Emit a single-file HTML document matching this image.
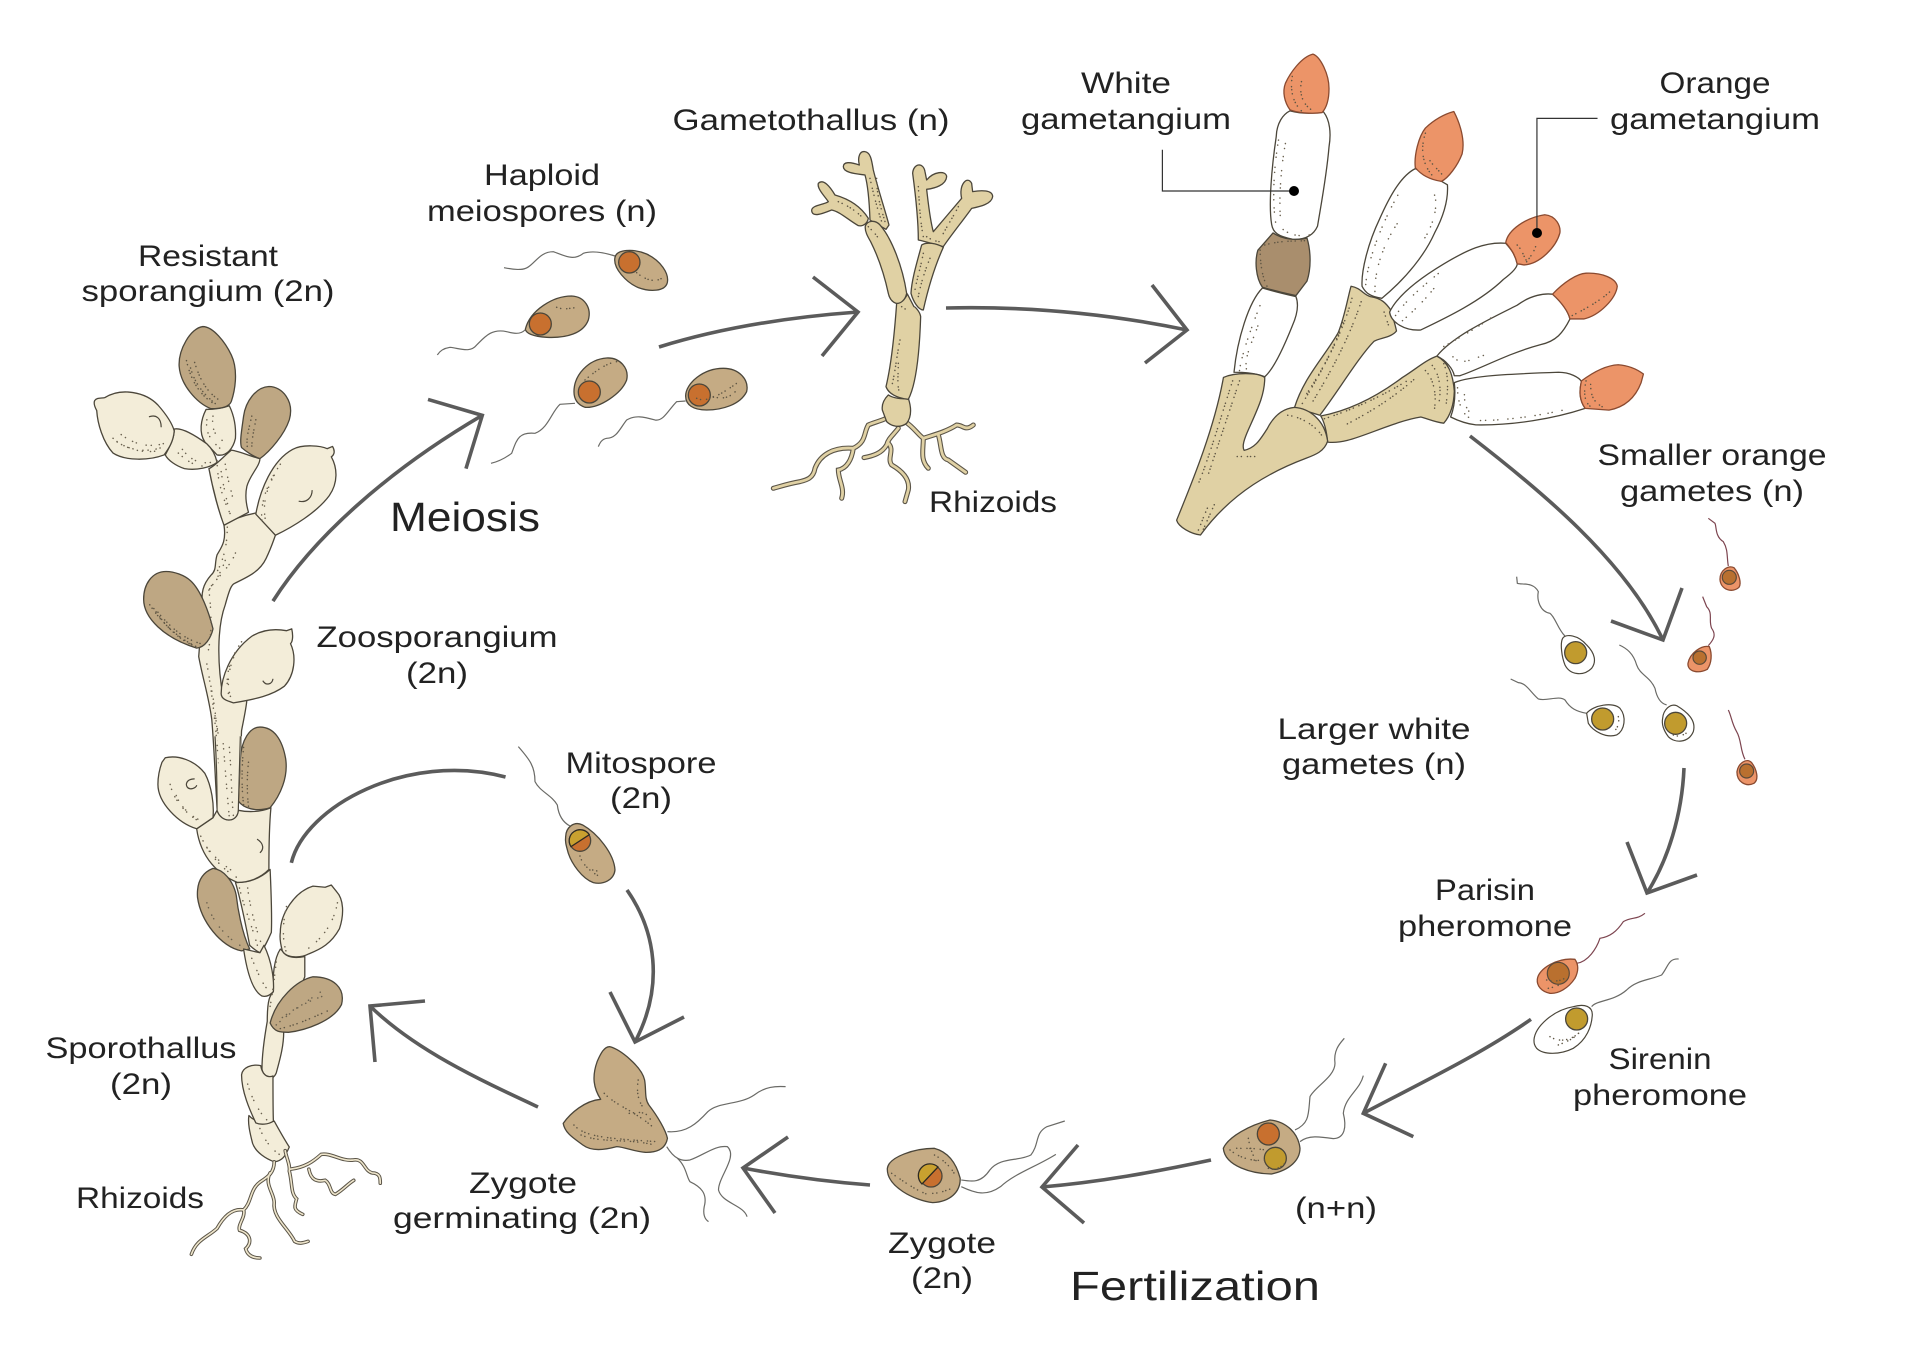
<!DOCTYPE html>
<html><head><meta charset="utf-8"><title>Life cycle</title>
<style>
html,body{margin:0;padding:0;background:#fff}
svg{display:block}
path,circle,ellipse{vector-effect:non-scaling-stroke}
text{font-family:"Liberation Sans",sans-serif;font-size:30px;fill:#222;text-anchor:middle}
.big{font-size:41px}
.o{stroke:#4b463a;stroke-width:1.3;stroke-linejoin:round}
.cr{fill:#f3edd9}.dk{fill:#bea783}.tn{fill:#c5ab84}.st{fill:#e0d1a4}.wh{fill:#fff}.or{fill:#ec9468;stroke:#8a4a30}.br{fill:#a98e6d}
.nu{fill:#c8702f;stroke:#4b463a;stroke-width:1.3}.ny{fill:#c19b2e;stroke:#4b463a;stroke-width:1.3}.no{fill:#b9702f;stroke:#5a4a3a;stroke-width:1.2}
.f{fill:none;stroke:#6a6a66;stroke-width:1.2}.fr{fill:none;stroke:#7d4550;stroke-width:1.2}
.a{fill:none;stroke:#5b5b5b;stroke-width:3.6}
.l{fill:none;stroke:#333;stroke-width:1.2}
.s{fill:none;stroke:#6b6250;stroke-width:1.5;stroke-linecap:round;stroke-dasharray:.1 5 .1 8 .1 4 .1 10}
.s2{fill:none;stroke:#5f5644;stroke-width:1.5;stroke-linecap:round;stroke-dasharray:.1 4 .1 6 .1 3}
.rd{fill:none;stroke:#5b5548;stroke-width:3.6;stroke-linecap:round}
.rl{fill:none;stroke:#efe6cc;stroke-width:1.6;stroke-linecap:round}
.rd2{fill:none;stroke:#5b5548;stroke-width:5;stroke-linecap:round}
.rl2{fill:none;stroke:#e0d1a4;stroke-width:2.8;stroke-linecap:round}
.c{fill:none;stroke:#4b463a;stroke-width:1.2}
</style></head><body>
<svg width="1920" height="1362" viewBox="0 0 1920 1362" xmlns="http://www.w3.org/2000/svg">
<rect width="1920" height="1362" fill="#fff"/>
<defs>
<g id="r1">
<path d="M552 1110C555 1130 565 1150 562 1165C570 1200 565 1225 580 1240C575 1260 570 1270 595 1282"/>
<path d="M565 1160C600 1155 620 1140 640 1120C665 1115 690 1140 720 1135C745 1130 745 1165 765 1170C785 1170 785 1185 785 1198"/>
<path d="M610 1160C615 1190 630 1195 650 1190C665 1200 660 1225 675 1228C695 1215 705 1200 720 1190"/>
<path d="M525 1140C525 1170 510 1180 490 1195C465 1215 470 1250 450 1270C420 1265 400 1290 385 1320C360 1345 335 1350 322 1390"/>
<path d="M450 1270C455 1290 435 1310 440 1325C470 1335 470 1360 455 1375C460 1395 475 1400 490 1400"/>
<path d="M515 1170C500 1200 525 1225 525 1250C520 1290 560 1320 575 1355C585 1362 595 1360 608 1355"/>
</g>
<g id="r2">
<path d="M395 850C385 870 345 875 325 885C310 910 320 935 280 955C220 950 180 975 165 1015C160 1045 140 1050 120 1055C90 1060 65 1068 40 1075"/>
<path d="M280 955C275 990 260 1015 235 1020C235 1050 255 1075 245 1105"/>
<path d="M415 895C400 915 385 925 380 945C365 970 340 978 312 983"/>
<path d="M385 940C405 960 380 985 395 1005C430 1025 450 1050 445 1080L435 1115"/>
<path d="M435 875C460 890 475 915 490 925C490 960 480 990 505 1015"/>
<path d="M490 925C520 915 560 905 590 885C610 885 615 905 640 885"/>
<path d="M535 915C545 945 540 985 565 990L617 1027"/>
</g>
</defs>

<!-- sporothallus upper -->
<g transform="translate(60,220) scale(.408,.37)">
<path class="o cr" d="M402 825C408 870 395 885 385 905C378 930 385 945 370 960C350 985 345 1010 350 1040L340 1180C350 1240 365 1290 372 1350C378 1430 380 1500 385 1590C385 1605 395 1615 410 1615C430 1615 437 1600 437 1580L445 1380C452 1340 458 1310 458 1295L400 1290C385 1200 385 1100 405 1040C415 1000 420 985 428 982C460 965 490 950 505 915C518 885 522 870 528 852L480 792C450 798 420 810 402 825Z"/>
<path class="o cr" d="M365 672C380 665 400 640 420 622C440 625 470 640 490 645C490 665 465 690 458 720C452 750 458 775 462 790L402 825C390 790 375 730 365 672Z"/>
<path class="o cr" d="M358 512C345 540 340 575 355 600L385 635C410 640 425 615 430 590C432 555 425 525 415 502C395 510 375 512 358 512Z"/>
<path class="o cr" d="M280 565C300 560 335 585 360 605C375 620 382 640 385 655C370 668 335 678 305 672C285 665 265 650 258 635C270 610 280 590 280 565Z"/>
<path class="o cr" d="M85 488C90 480 100 482 110 480C150 452 210 465 240 500C260 525 275 550 280 570C278 600 265 620 255 635C220 650 160 652 130 630C105 600 92 550 90 515C85 505 82 495 85 488Z"/>
<path class="o dk" d="M350 288C320 292 290 350 292 395C295 445 335 495 370 510C395 510 415 505 420 490C432 450 435 400 420 365C405 330 375 288 350 288Z"/>
<path class="o dk" d="M512 450C480 452 455 490 450 530C445 570 440 600 445 615C455 625 475 640 490 645C515 625 550 580 562 540C575 490 545 450 512 450Z"/>
<path class="o cr" d="M480 795C490 730 520 650 570 620C595 605 640 610 655 618L668 612C675 625 672 635 665 640C680 670 682 710 660 745C630 790 570 830 528 852Z"/>
<path class="o cr" d="M395 1280C395 1240 415 1170 470 1125C500 1105 530 1105 555 1110L568 1105C572 1125 570 1140 565 1145C580 1180 575 1230 550 1260C520 1285 480 1295 425 1305C410 1300 395 1295 395 1280Z"/>
<path class="o dk" d="M260 950C225 950 205 985 205 1025C205 1075 255 1130 335 1157C355 1155 370 1130 375 1105C365 1060 345 1000 320 975C305 960 280 950 260 950Z"/>
<path class="c" d="M218 532C235 525 248 535 248 560M585 760C605 765 618 750 618 730"/>
<path class="c" d="M497 1245C505 1260 520 1255 522 1240"/>
<path class="s2" d="M310 380C320 430 340 470 375 495M330 385C345 440 365 470 395 490M320 400C330 440 350 470 385 500M470 530C462 570 455 590 460 620M480 540C475 570 470 590 470 620"/>
<path class="s" d="M130 590C160 620 210 635 255 620M150 580C180 605 220 620 265 600M140 600C175 625 220 630 260 610M300 620C320 650 345 660 370 655M290 630C310 650 330 665 350 665M360 540C355 580 375 600 395 620M375 530C370 570 385 590 405 600M385 650C385 720 410 780 420 800M405 660C410 700 420 730 425 760M395 680C400 720 410 760 415 790M540 660C510 710 490 760 495 815M525 690C505 730 495 770 505 820M410 830C410 880 400 920 385 950M430 900C420 930 400 950 370 990M405 920C395 950 385 970 365 1000M365 1000C370 1050 375 1120 360 1180M445 1140C420 1180 400 1230 415 1290M430 1170C415 1210 405 1250 420 1295"/>
<path class="s2" d="M220 1040C250 1090 290 1130 330 1150M240 1060C270 1100 300 1130 345 1145M230 1050C260 1100 295 1140 340 1155"/>
<path class="s" d="M360 1200C375 1290 385 1400 395 1560M380 1340C395 1420 395 1500 410 1580M370 1260C385 1340 390 1450 400 1570"/>
</g>

<!-- sporothallus lower -->
<g transform="translate(60,740) scale(.408,.37)">
<path class="o cr" d="M435 385C470 385 495 370 515 350C517 400 520 470 518 520C510 540 500 565 490 575C480 570 470 560 465 555C455 500 445 440 430 385Z"/>
<path class="o cr" d="M335 240L375 210L385 190C395 225 435 225 437 190C460 195 490 195 517 183C512 240 512 300 512 350C490 375 460 385 435 385C390 365 345 320 335 240Z"/>
<path class="o dk" d="M490 -35C465 -35 445 0 442 50L437 165C450 185 480 195 515 183C540 150 560 100 553 50C545 0 525 -35 490 -35Z"/>
<path class="o cr" d="M385 -10C395 80 380 150 385 190C395 225 435 225 437 190L445 -10Z" style="stroke:none"/>
<path class="c" d="M380 -10C385 80 385 140 385 190C395 225 435 225 437 190L442 -10"/>
<path class="o cr" d="M250 60L258 48C290 40 330 55 355 90C372 125 378 175 375 210L335 240C290 225 240 170 240 120C240 95 245 75 250 60Z"/>
<path class="o dk" d="M375 347C345 360 335 390 337 425C345 490 395 560 445 570L465 565C445 520 435 450 432 420C425 380 400 350 375 347Z"/>
<path class="o cr" d="M540 565C525 590 520 640 523 680C515 690 508 700 508 760C500 810 495 860 495 890C500 915 520 925 530 900C540 860 550 820 548 780L600 640C600 620 600 600 600 585C580 590 555 590 545 570Z"/>
<path class="o cr" d="M450 565L490 575L500 555C520 600 525 650 523 680C515 690 505 695 495 692C475 680 460 640 450 565Z"/>
<path class="o cr" d="M540 520C540 470 575 410 620 395L650 398L665 392L678 410C695 430 697 470 685 510C665 550 640 565 610 578C590 590 555 590 545 570C540 550 538 535 540 520Z"/>
<path class="o dk" d="M620 640C580 650 530 700 515 765C525 790 540 790 560 790C600 785 670 760 690 715C700 670 670 640 620 640Z"/>
<path class="o cr" d="M463 1015C475 1030 500 1040 525 1030C535 1050 550 1080 562 1100C552 1125 545 1138 525 1140C505 1132 480 1115 472 1090C465 1060 460 1035 463 1015Z"/>
<path class="o cr" d="M445 905C447 885 470 875 492 880C495 900 505 915 522 908C522 950 522 1000 523 1030C510 1040 490 1040 480 1035C465 1000 445 950 445 905Z"/>
<use href="#r1" class="rd"/><use href="#r1" class="rl"/>
<path class="c" d="M330 105C305 105 305 130 320 132C330 132 335 125 335 122M483 268C500 280 500 295 490 305"/>
<path class="s" d="M270 120C280 170 320 210 350 225M285 150C295 180 320 205 340 215M400 10C405 80 410 150 415 210M415 20C420 80 420 150 425 205M345 260C370 320 410 360 440 375M360 290C380 320 410 345 430 360M440 400C450 450 470 500 485 560M460 400C465 450 480 510 495 555M360 440C375 500 420 545 450 560M470 590C485 630 500 670 515 680M555 450C545 500 545 540 555 575M680 440C670 500 640 540 600 570M530 600C525 650 520 690 515 720M530 770C560 740 600 710 640 680M545 750C575 725 610 705 650 690M460 930C470 970 490 1010 510 1030M490 1050C500 1080 520 1110 545 1125"/>
<path class="s2" d="M450 20C445 80 445 130 450 175M462 60C458 100 458 140 462 180M540 780C580 770 620 750 660 730"/>
<path class="a" d="M567 332C600 180 850 30 1092 100"/>
</g>

<!-- meiosis arrow -->
<g transform="translate(60,220) scale(.408,.37)">
<path class="a" d="M522 1030C620 860 800 680 1035 528"/>
<path class="a" d="M902 485L1035 528L995 672"/>
</g>

<!-- meiospores -->
<g transform="translate(420,220) scale(.3333)">
<path class="f" d="M585 108C560 100 520 90 490 100C460 125 430 105 400 95C350 95 340 150 300 148C280 150 265 145 252 143"/>
<path class="o tn" d="M585 112C590 88 640 85 680 102C722 122 748 160 742 188C735 215 690 216 655 203C620 188 578 145 585 112Z"/>
<circle class="nu" cx="628" cy="127" r="32"/>
<path class="s2" d="M650 158C670 175 700 190 725 175"/>
<path class="f" d="M315 330C300 345 280 340 260 335C215 325 195 350 170 375C150 400 120 385 90 382C70 385 58 395 52 405"/>
<path class="o tn" d="M316 328C330 270 400 228 455 228C495 230 515 265 505 300C490 340 440 355 380 352C350 350 320 345 316 328Z"/>
<circle class="nu" cx="361" cy="312" r="33"/>
<path class="s2" d="M410 262C430 270 450 265 472 262"/>
<path class="f" d="M465 550L420 553C395 575 385 625 345 640C295 635 290 660 275 700C255 715 235 725 213 730"/>
<path class="o tn" d="M462 515C462 465 505 418 560 414C600 412 628 445 620 480C605 520 540 565 495 562C475 555 462 540 462 515Z"/>
<circle class="nu" cx="508" cy="516" r="33"/>
<path class="s2" d="M495 480C530 450 560 430 590 425"/>
<path class="f" d="M797 543L770 545C745 570 730 605 705 600C670 590 645 585 620 600C600 625 590 655 560 655C545 658 540 668 535 680"/>
<path class="o tn" d="M797 528C797 490 850 445 910 445C958 445 988 480 980 515C960 555 905 570 860 570C820 570 797 555 797 528Z"/>
<circle class="nu" cx="838" cy="525" r="33"/>
<path class="s2" d="M830 535C850 545 880 540 950 490M880 530C910 540 935 530 950 510"/>
</g>

<!-- gametothallus -->
<path class="a" d="M659 347C720 328 790 317 858 312"/>
<path class="a" d="M813 277L858 312L822 356"/>
<g transform="translate(760,130) scale(.3333)">
<use href="#r2" class="rd2"/><use href="#r2" class="rl2"/>
<path class="o st" d="M385 795C370 810 365 825 367 840L380 875C395 890 420 895 440 880C455 860 455 835 445 805C425 808 400 805 385 795Z"/>
<path class="o st" d="M410 520C405 590 395 700 378 770C385 790 410 805 445 808C465 770 478 690 482 560C480 545 465 530 462 530L442 492C435 510 420 520 410 520Z"/>
<path class="o st" d="M250 110C250 95 270 95 298 105C292 80 300 62 315 65C332 68 335 90 340 120C355 180 375 240 387 285L378 298C365 290 345 280 330 270C328 215 325 170 315 135C295 132 250 130 250 110Z"/>
<path class="o st" d="M155 240C158 225 190 225 205 215C195 200 170 175 175 160C190 145 210 170 225 195C260 205 300 225 325 265C322 280 310 290 295 287C265 270 240 245 215 240C190 250 155 265 155 240Z"/>
<path class="o st" d="M316 288C322 272 345 268 360 285C395 325 428 410 440 490C436 510 422 522 408 520C395 515 388 505 385 490C372 430 352 375 332 335C322 318 314 303 316 288Z"/>
<path class="o st" d="M475 330C475 280 470 220 458 130C460 100 490 95 495 125L500 150C520 125 558 120 560 140C558 165 525 175 500 178C505 220 510 270 520 305C550 270 575 240 605 205C595 165 622 135 635 160L638 185C665 180 698 180 698 200C695 222 660 230 635 235C610 270 570 320 550 350C530 345 500 335 475 330Z"/>
<path class="o st" d="M485 345C500 335 530 340 550 352C535 385 510 450 490 540C475 540 460 515 453 490C455 450 470 400 485 345Z"/>
<path class="s2" d="M330 145C340 190 350 230 365 275M350 145C350 200 365 240 375 275M235 215C270 230 290 245 310 265M325 290C335 300 350 315 355 325M475 170C478 220 480 270 490 320M500 320C515 330 530 335 540 335M595 230C580 260 560 290 545 320M490 370C480 420 470 450 465 480M510 385C495 420 480 470 475 500M420 630C410 680 405 730 395 770M415 700C415 740 410 770 420 790M425 530L440 540"/>
</g>

<!-- gametangia -->
<g transform="translate(1150,30) scale(.459,.344)">
<path class="o wh" d="M245 750C215 790 190 900 183 995C200 995 225 995 250 1008C270 985 295 910 310 860C320 830 325 800 318 775C295 768 270 760 245 750Z"/>
<path class="o br" d="M268 590C290 610 320 612 342 605C350 640 352 690 342 730L318 772C290 765 265 755 245 748C230 720 228 670 235 640Z"/>
<path class="o wh" d="M305 235C290 245 276 270 275 310C265 400 258 510 265 565C268 590 280 600 310 608C335 610 355 600 365 570C375 490 385 420 390 340C395 300 392 262 378 238C350 245 325 242 305 235Z"/>
<path class="o or" d="M355 70C372 78 390 130 390 170C390 200 385 225 375 240C350 245 320 240 305 232C293 210 288 180 295 155C305 125 330 78 355 70Z"/>
<path class="o wh" d="M578 403C545 425 520 490 500 550C475 620 460 700 462 745C470 765 480 775 505 780C560 720 600 650 620 590C640 540 650 490 648 450L635 440Z"/>
<path class="o or" d="M662 237C675 270 687 320 680 360C670 395 650 430 635 440C610 435 590 420 578 400C575 365 585 310 600 285C620 260 640 245 662 237Z"/>
<path class="o st" d="M315 1097C335 1010 380 950 410 880C425 830 432 770 438 745C460 750 465 770 480 775C505 780 515 795 525 815C530 840 535 860 537 875C525 895 500 895 488 905C455 950 410 1050 370 1120Z"/>
<path class="o wh" d="M775 620C730 615 690 640 640 680C590 720 540 770 522 820C525 850 555 875 590 872C640 840 720 790 770 725C790 705 800 690 800 680C795 650 785 635 775 620Z"/>
<path class="o or" d="M775 618C780 580 820 545 860 537C885 540 895 570 893 590C885 630 850 680 815 683C805 680 800 680 800 680C795 650 785 635 775 618Z"/>
<path class="o wh" d="M625 948C660 890 740 840 800 800C830 770 860 765 877 768C895 790 910 815 915 840C900 880 885 905 850 915C780 940 720 985 675 1005L663 1005C660 985 645 960 625 948Z"/>
<path class="o or" d="M877 768C900 735 930 708 950 707C985 705 1015 722 1018 745C1015 780 980 830 945 840L915 840C910 815 895 790 877 768Z"/>
<path class="o wh" d="M663 1025C700 1005 780 1000 890 995C915 995 935 1010 940 1022C935 1050 935 1075 948 1100C880 1130 790 1150 710 1148C690 1145 670 1135 655 1125C665 1090 665 1050 663 1025Z"/>
<path class="o or" d="M940 1020C960 1000 990 975 1020 973C1040 975 1060 985 1075 1000L1070 1025C1060 1060 1040 1095 1000 1105L948 1100C935 1075 935 1050 940 1020Z"/>
<path class="o st" d="M372 1122C440 1105 500 1060 550 1010C580 985 600 960 625 948C650 965 660 1000 663 1050C662 1090 655 1120 640 1143C620 1140 605 1130 590 1125C540 1135 470 1180 430 1193C415 1198 400 1200 387 1198C385 1170 380 1140 372 1122Z"/>
<path class="o st" d="M160 1010C185 995 235 995 250 1010C250 1060 235 1100 215 1160C205 1190 200 1210 205 1222C230 1215 240 1190 255 1160C270 1120 290 1100 315 1097C345 1100 380 1130 387 1195C380 1225 360 1235 340 1245C270 1280 180 1340 110 1468C90 1465 62 1445 58 1425C90 1320 140 1160 160 1010Z"/>
<path class="s2" d="M180 1020C160 1100 130 1240 105 1320M195 1020C175 1100 150 1200 125 1300M125 1390C115 1420 110 1440 105 1455M140 1380C130 1410 120 1440 115 1455M190 1240L230 1240M300 1120C330 1125 360 1150 375 1180"/>
<path class="s2" d="M440 780C420 880 380 980 330 1090M460 790C440 870 410 960 350 1090M510 820L520 860M420 850C400 930 370 1000 340 1060"/>
<path class="s2" d="M380 1130C450 1100 510 1060 560 1020M430 1145C480 1110 530 1070 580 1010M615 975C630 1000 635 1040 630 1080M600 990C615 1010 625 1050 620 1100M640 970C650 1000 650 1040 645 1090"/>
<path class="s" d="M195 990C200 940 225 850 240 800M210 985C205 950 225 900 235 860M280 320C270 400 265 500 275 570M295 330C285 400 280 500 285 560M290 580C310 600 330 600 350 595M470 740C475 660 510 550 540 480M490 760C490 690 510 620 540 560M620 480C630 520 610 590 590 620M535 830C560 780 600 740 635 700M550 845C580 810 610 770 630 730M640 920C680 890 720 860 750 830M660 950C680 980 710 950 730 945M670 1040C670 1080 680 1120 700 1130M685 1060C685 1090 690 1110 710 1125M720 1135C780 1135 850 1120 900 1105"/>
<path class="s2" d="M310 135C305 170 310 210 330 235M330 150C325 180 330 220 360 238M600 300C590 340 590 390 620 430M610 380C620 400 640 420 640 430M800 625C815 645 815 670 825 675M840 630C835 650 825 665 820 675M920 830C950 810 990 780 1010 750M950 1020C945 1050 945 1080 960 1095M960 1030C960 1060 965 1080 985 1095"/>
<path class="s2" d="M240 640C240 680 245 720 255 745M250 625C290 610 320 615 340 612"/>
<path class="l" d="M975 257L843 257L843 590"/>
<path class="l" d="M27 348L27 468L313 468"/>
</g>
<circle cx="1537" cy="233" r="5" fill="#000"/>
<circle cx="1294" cy="191" r="5" fill="#000"/>

<path class="a" d="M946 308C1030 306 1110 314 1187 330"/>
<path class="a" d="M1152 285L1187 330L1145 363"/>
<path class="a" d="M1470 436C1540 490 1625 560 1663 640"/>
<path class="a" d="M1611 621L1663 640L1682 588"/>

<!-- gametes -->
<g transform="translate(1480,500) scale(.3333)">
<path class="f" d="M255 408C235 390 225 350 210 340C180 335 170 300 175 275C160 245 125 255 112 250L110 230"/>
<path class="c" style="fill:#fff" d="M248 415C258 400 295 405 320 435C345 460 350 485 335 505C310 530 270 525 255 495C245 470 240 430 248 415Z"/>
<circle class="ny" cx="287" cy="458" r="33"/>
<path class="f" d="M320 640C290 635 270 625 255 600C235 585 200 605 175 597C150 575 140 550 115 548L92 537"/>
<path class="c" style="fill:#fff" d="M320 640C340 615 400 605 420 625C440 650 435 690 410 705C380 715 340 695 325 670Z"/>
<circle class="ny" cx="368" cy="657" r="33"/>
<path class="s2" d="M415 650C420 670 410 690 400 695"/>
<path class="f" d="M560 615C540 610 530 590 525 565C510 530 480 525 470 495C460 460 440 445 418 435"/>
<path class="c" style="fill:#fff" d="M548 655C550 630 570 610 590 617C620 635 650 660 640 695C625 730 585 730 565 710C550 690 545 670 548 655Z"/>
<circle class="ny" cx="587" cy="670" r="33"/>
<path class="s2" d="M580 705C595 712 610 705 618 700"/>
<path class="fr" d="M745 198C740 170 745 150 730 125C705 110 710 80 705 70L685 55"/>
<path class="o or" d="M720 238C720 210 745 195 762 203C778 222 785 250 777 262C757 280 722 270 720 238Z"/>
<circle class="no" cx="748" cy="232" r="21"/>
<path class="fr" d="M685 437C700 420 710 405 695 385C685 360 700 340 680 320L668 290"/>
<path class="o or" d="M624 490C630 458 665 435 688 440C697 462 695 490 682 508C655 522 622 515 624 490Z"/>
<circle class="no" cx="659" cy="473" r="20"/>
<path class="fr" d="M795 778C780 750 785 720 770 695C755 670 755 650 745 630"/>
<path class="o or" d="M771 815C775 790 800 772 815 788C830 808 838 838 822 850C797 862 770 845 771 815Z"/>
<circle class="no" cx="800" cy="813" r="21"/>
</g>

<path class="a" d="M1684 768C1682 815 1668 860 1647 893"/>
<path class="a" d="M1627 842L1647 893L1697 875"/>

<!-- pheromone & fertilised -->
<g transform="translate(1200,900) scale(.3333)">
<path class="fr" d="M1130 190C1165 185 1190 145 1200 115C1230 110 1250 95 1270 65C1295 50 1310 60 1335 40"/>
<path class="o or" d="M1012 238C1015 205 1075 172 1125 178C1137 195 1135 215 1125 235C1105 265 1075 282 1050 280C1025 275 1010 258 1012 238Z"/>
<circle class="no" cx="1075" cy="220" r="33"/>
<path class="s2" d="M1040 240C1060 245 1085 245 1100 230M1045 265C1060 262 1075 258 1085 250"/>
<path class="f" d="M1175 320C1190 300 1240 305 1280 270C1310 240 1350 240 1385 225C1405 200 1405 175 1436 177"/>
<path class="c" style="fill:#fff" d="M1002 420C1005 380 1060 330 1120 320C1155 310 1178 320 1177 345C1175 380 1160 420 1120 445C1080 465 1030 465 1010 445C1003 435 1002 430 1002 420Z"/>
<circle class="ny" cx="1130" cy="357" r="33"/>
<path class="s2" d="M1050 410C1080 430 1120 420 1145 390M1075 435C1100 425 1125 415 1140 395"/>
<path class="f" d="M285 690C330 670 325 640 330 590C345 560 405 530 405 490C400 450 420 430 433 415"/>
<path class="f" d="M300 725C325 705 360 710 400 716C435 715 440 680 430 640C435 590 480 570 490 527"/>
<path class="o tn" d="M70 745C85 710 150 675 210 660C260 665 295 700 300 745C300 780 270 810 215 822C160 822 75 800 70 745Z"/>
<circle class="nu" cx="205" cy="702" r="33"/>
<circle class="ny" cx="226" cy="775" r="33"/>
<path class="s2" d="M90 750C120 775 160 785 195 780M110 745C140 745 170 745 195 750M145 715C150 745 160 770 170 785M205 805C220 812 240 805 255 790"/>
<path class="a" d="M993 358C840 465 660 550 490 640"/>
<path class="a" d="M557 490L490 640L640 710"/>
</g>

<path class="a" d="M1211 1160C1155 1172 1100 1182 1042 1187"/>
<path class="a" d="M1078 1145L1042 1187L1084 1223"/>
<path class="a" d="M870 1185C830 1182 785 1176 743 1168"/>
<path class="a" d="M788 1137L743 1168L775 1213"/>
<path class="a" d="M538 1107C480 1080 415 1050 370 1006"/>
<path class="a" d="M425 1001L370 1006L375 1062"/>
<path class="a" d="M627 890C655 930 665 985 635 1042"/>
<path class="a" d="M610 992L635 1042L684 1017"/>

<!-- zygotes -->
<g transform="translate(540,1030) scale(.357,.3333)">
<path class="f" d="M357 305C410 310 440 280 470 245C500 215 560 225 600 195C630 170 660 168 688 170"/>
<path class="f" d="M355 350C375 385 395 395 420 390C460 375 490 345 525 350C555 380 500 440 500 480C510 520 570 525 580 560"/>
<path class="f" d="M385 385C410 410 410 440 420 455C450 470 470 490 460 530C455 560 465 570 472 575"/>
<path class="o tn" d="M195 50C225 58 285 110 293 150C298 180 292 205 305 225C330 260 352 300 357 325C352 355 330 368 295 367C265 365 240 352 215 350C180 360 145 365 120 345C95 325 70 310 65 280C85 250 125 212 170 208C150 175 145 140 160 95C170 70 180 50 195 50Z"/>
<path class="s2" d="M95 285C125 320 180 325 330 335M115 315C170 340 250 325 320 345M180 190C210 225 260 240 315 290M250 250C280 245 300 245 310 270M275 150C270 190 275 210 290 235"/>
<path class="f" d="M1180 450C1210 455 1235 460 1260 420C1290 380 1340 395 1375 375C1400 340 1385 310 1420 290L1470 273"/>
<path class="f" d="M1180 470C1220 490 1250 500 1290 470C1330 430 1390 410 1445 373"/>
<path class="o tn" d="M973 415C978 380 1050 355 1105 355C1140 365 1165 395 1177 445C1178 485 1150 515 1100 518C1050 512 970 470 973 415Z"/>
<path class="s2" d="M985 430C1020 455 1050 480 1090 495M1100 490C1120 490 1140 480 1155 475M1105 375C1130 390 1150 410 1160 430"/>
</g>
<circle cx="931" cy="1176" r="11" fill="#c8702f" stroke="#4b463a" stroke-width="1.3"/>
<path d="M922 1184A11 11 0 0 1 938 1167Z" fill="#c9a12f" stroke="#2e2a22" stroke-width="1.3"/>

<g transform="translate(500,730) scale(.3333)">
<path class="f" d="M210 288C185 275 175 250 172 225C155 195 120 185 105 155C105 110 90 90 55 50"/>
<path class="o tn" d="M197 320C198 292 222 272 248 285C292 310 342 370 345 420C342 450 310 465 280 458C245 445 215 400 205 370C198 345 195 335 197 320Z"/>
<circle cx="240" cy="332" r="32" fill="#c8702f" stroke="#4b463a" stroke-width="1.3"/>
<path d="M213 350A32 32 0 0 1 268 314Z" fill="#c9a12f" stroke="#2e2a22" stroke-width="1.3"/>
<path class="s2" d="M240 378C245 400 270 425 300 440M278 420L300 425"/>
</g>

<!-- labels -->
<text x="811" y="130" textLength="277" lengthAdjust="spacingAndGlyphs">Gametothallus (n)</text>
<text x="542" y="185" textLength="116" lengthAdjust="spacingAndGlyphs">Haploid</text>
<text x="542" y="221" textLength="230" lengthAdjust="spacingAndGlyphs">meiospores (n)</text>
<text x="208" y="266" textLength="140" lengthAdjust="spacingAndGlyphs">Resistant</text>
<text x="208" y="301" textLength="253" lengthAdjust="spacingAndGlyphs">sporangium (2n)</text>
<text class="big" x="465" y="531" textLength="150" lengthAdjust="spacingAndGlyphs">Meiosis</text>
<text x="437" y="647" textLength="241" lengthAdjust="spacingAndGlyphs">Zoosporangium</text>
<text x="437" y="683" textLength="62" lengthAdjust="spacingAndGlyphs">(2n)</text>
<text x="641" y="773" textLength="151" lengthAdjust="spacingAndGlyphs">Mitospore</text>
<text x="641" y="808" textLength="62" lengthAdjust="spacingAndGlyphs">(2n)</text>
<text x="141" y="1058" textLength="191" lengthAdjust="spacingAndGlyphs">Sporothallus</text>
<text x="141" y="1094" textLength="62" lengthAdjust="spacingAndGlyphs">(2n)</text>
<text x="140" y="1208" textLength="128" lengthAdjust="spacingAndGlyphs">Rhizoids</text>
<text x="523" y="1193" textLength="108" lengthAdjust="spacingAndGlyphs">Zygote</text>
<text x="522" y="1228" textLength="258" lengthAdjust="spacingAndGlyphs">germinating (2n)</text>
<text x="942" y="1253" textLength="108" lengthAdjust="spacingAndGlyphs">Zygote</text>
<text x="942" y="1288" textLength="62" lengthAdjust="spacingAndGlyphs">(2n)</text>
<text class="big" x="1195" y="1300" textLength="250" lengthAdjust="spacingAndGlyphs">Fertilization</text>
<text x="1336" y="1218" textLength="82" lengthAdjust="spacingAndGlyphs">(n+n)</text>
<text x="1660" y="1069" textLength="103" lengthAdjust="spacingAndGlyphs">Sirenin</text>
<text x="1660" y="1105" textLength="174" lengthAdjust="spacingAndGlyphs">pheromone</text>
<text x="1485" y="900" textLength="100" lengthAdjust="spacingAndGlyphs">Parisin</text>
<text x="1485" y="936" textLength="174" lengthAdjust="spacingAndGlyphs">pheromone</text>
<text x="1374" y="739" textLength="193" lengthAdjust="spacingAndGlyphs">Larger white</text>
<text x="1374" y="774" textLength="184" lengthAdjust="spacingAndGlyphs">gametes (n)</text>
<text x="1712" y="465" textLength="229" lengthAdjust="spacingAndGlyphs">Smaller orange</text>
<text x="1712" y="501" textLength="184" lengthAdjust="spacingAndGlyphs">gametes (n)</text>
<text x="1715" y="93" textLength="111" lengthAdjust="spacingAndGlyphs">Orange</text>
<text x="1715" y="129" textLength="210" lengthAdjust="spacingAndGlyphs">gametangium</text>
<text x="1126" y="93" textLength="90" lengthAdjust="spacingAndGlyphs">White</text>
<text x="1126" y="129" textLength="210" lengthAdjust="spacingAndGlyphs">gametangium</text>
<text x="993" y="512" textLength="128" lengthAdjust="spacingAndGlyphs">Rhizoids</text>
</svg>
</body></html>
